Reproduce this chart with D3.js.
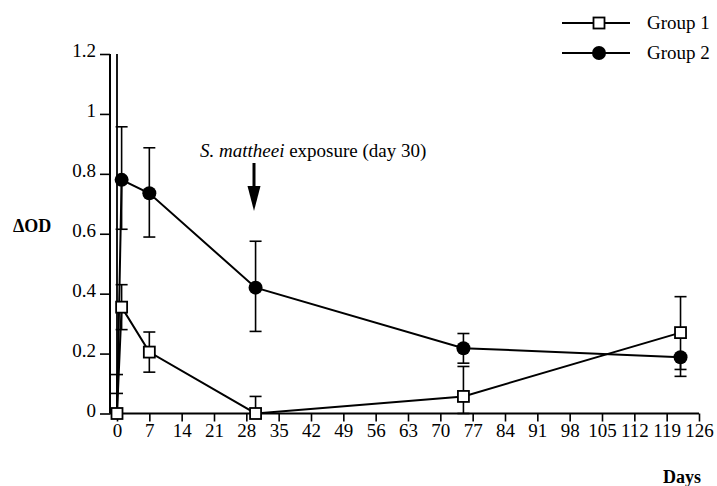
<!DOCTYPE html>
<html>
<head>
<meta charset="utf-8">
<script src="https://cdn.jsdelivr.net/npm/d3@7"></script>
<style>
  html, body { margin: 0; padding: 0; background: #fff; }
  svg { display: block; }
  svg text { font-family: "Liberation Serif", "Times New Roman", Times, "Tinos", "Noto Serif", "DejaVu Serif", serif !important; fill: #000; }
</style>
</head>
<body>
<svg id="chart" width="717" height="486"></svg>
<script>
// ---- data ----
const xTicks = [0, 7, 14, 21, 28, 35, 42, 49, 56, 63, 70, 77, 84, 91, 98, 105, 112, 119, 126];
const yTicks = [0, 0.2, 0.4, 0.6, 0.8, 1, 1.2];
const yTickLabels = ["0", "0.2", "0.4", "0.6", "0.8", "1", "1.2"];

const g1Days   = [0, 1, 7, 30, 75, 122];
const g1Values = [0, 0.355, 0.205, 0, 0.057, 0.27];
const g1ErrHi  = [0.13, 0.43, 0.272, 0.057, 0.157, 0.39];
const g1ErrLo  = [null, 0.28, 0.138, null, 0, 0.147];

const g2Days   = [0, 1, 7, 30, 75, 122];
const g2Values = [0, 0.78, 0.735, 0.42, 0.218, 0.188];
const g2ErrHi  = [0.067, 0.957, 0.887, 0.575, 0.267, null];
const g2ErrLo  = [null, 0.615, 0.589, 0.274, 0.168, 0.124];
const g2ShowMarker = [false, true, true, true, true, true];

const spikeDay = 0, spikeTop = 1.2;

const seriesNames = ["Group 1", "Group 2"];

// ---- layout ----
const svg = d3.select("#chart");
const x = d3.scaleLinear().domain([0, 126]).range([117, 699]);
const y = d3.scaleLinear().domain([0, 1.2]).range([413.5, 54]);
const axisLeftX = 110;

// axes
const xAxis = svg.append("g").attr("transform", `translate(0,${y(0)})`)
  .call(d3.axisBottom(x).tickValues(xTicks).tickSizeInner(8).tickSizeOuter(0).tickPadding(2));
xAxis.select(".domain").remove();
xAxis.attr("font-family", null);
xAxis.append("line").attr("x1", axisLeftX).attr("x2", x(126)).attr("stroke", "#000").attr("stroke-width", 2);
xAxis.selectAll(".tick line").attr("stroke-width", 1.6);
xAxis.selectAll(".tick text").attr("font-size", 19).attr("fill", "#000");

const yAxis = svg.append("g").attr("transform", `translate(${axisLeftX},0)`)
  .call(d3.axisLeft(y).tickValues(yTicks).tickFormat((d, i) => yTickLabels[i]).tickSizeInner(10).tickSizeOuter(0).tickPadding(4));
yAxis.select(".domain").remove();
yAxis.attr("font-family", null);
yAxis.append("line").attr("y1", y(0)).attr("y2", y(1.2)).attr("stroke", "#000").attr("stroke-width", 2);
yAxis.selectAll(".tick line").attr("stroke-width", 1.6);
yAxis.selectAll(".tick text").attr("font-size", 19).attr("fill", "#000").attr("dy", "0.15em");

// axis titles
svg.append("text").attr("x", 13).attr("y", 232).attr("font-size", 18).attr("font-weight", "bold").text("ΔOD");
svg.append("text").attr("x", 701).attr("y", 483).attr("text-anchor", "end").attr("font-size", 18).attr("font-weight", "bold").text("Days");

// spike line at day 0
svg.append("line").attr("x1", x(spikeDay)).attr("x2", x(spikeDay))
  .attr("y1", y(0)).attr("y2", y(spikeTop)).attr("stroke", "#000").attr("stroke-width", 1.8);

function errorBars(days, vals, hi, lo) {
  const g = svg.append("g").attr("stroke", "#000").attr("stroke-width", 1.6);
  days.forEach((d, i) => {
    const cx = x(d);
    [hi[i], lo[i]].forEach(e => {
      if (e === null) return;
      g.append("line").attr("x1", cx).attr("x2", cx).attr("y1", y(vals[i])).attr("y2", y(e));
      g.append("line").attr("x1", cx - 6).attr("x2", cx + 6).attr("y1", y(e)).attr("y2", y(e));
    });
  });
}
errorBars(g2Days, g2Values, g2ErrHi, g2ErrLo);
errorBars(g1Days, g1Values, g1ErrHi, g1ErrLo);

const line = d3.line().x(d => x(d[0])).y(d => y(d[1]));
svg.append("path").datum(g2Days.map((d, i) => [d, g2Values[i]]))
  .attr("d", line).attr("fill", "none").attr("stroke", "#000").attr("stroke-width", 2);
svg.append("path").datum(g1Days.map((d, i) => [d, g1Values[i]]))
  .attr("d", line).attr("fill", "none").attr("stroke", "#000").attr("stroke-width", 2);

// markers
svg.append("g").selectAll("circle")
  .data(g2Days.map((d, i) => [d, g2Values[i], g2ShowMarker[i]]).filter(d => d[2]))
  .join("circle").attr("cx", d => x(d[0])).attr("cy", d => y(d[1])).attr("r", 7).attr("fill", "#000");
svg.append("g").selectAll("rect")
  .data(g1Days.map((d, i) => [d, g1Values[i]]))
  .join("rect").attr("x", d => x(d[0]) - 5.5).attr("y", d => y(d[1]) - 5.5)
  .attr("width", 11).attr("height", 11).attr("fill", "#fff").attr("stroke", "#000").attr("stroke-width", 1.8);

// annotation
const ann = svg.append("text").attr("x", 200).attr("y", 157).attr("font-size", 19);
ann.append("tspan").attr("font-style", "italic").text("S. mattheei");
ann.append("tspan").text(" exposure (day 30)");
const ax = 254;
svg.append("line").attr("x1", ax).attr("x2", ax).attr("y1", 163).attr("y2", 188)
  .attr("stroke", "#000").attr("stroke-width", 3);
svg.append("path").attr("d", `M${ax - 6.5},186 L${ax + 6.5},186 L${ax},211 Z`).attr("fill", "#000");

// legend
const legY = [23, 53];
seriesNames.forEach((name, i) => {
  const g = svg.append("g");
  g.append("line").attr("x1", 562).attr("x2", 630).attr("y1", legY[i]).attr("y2", legY[i]).attr("stroke", "#000").attr("stroke-width", 1.8);
  if (i === 0) {
    g.append("rect").attr("x", 599 - 5.5).attr("y", legY[i] - 5.5).attr("width", 11).attr("height", 11)
      .attr("fill", "#fff").attr("stroke", "#000").attr("stroke-width", 1.8);
  } else {
    g.append("circle").attr("cx", 599).attr("cy", legY[i]).attr("r", 7).attr("fill", "#000");
  }
  g.append("text").attr("x", 647).attr("y", legY[i] + 6).attr("font-size", 19).text(name);
});
</script>
</body>
</html>
